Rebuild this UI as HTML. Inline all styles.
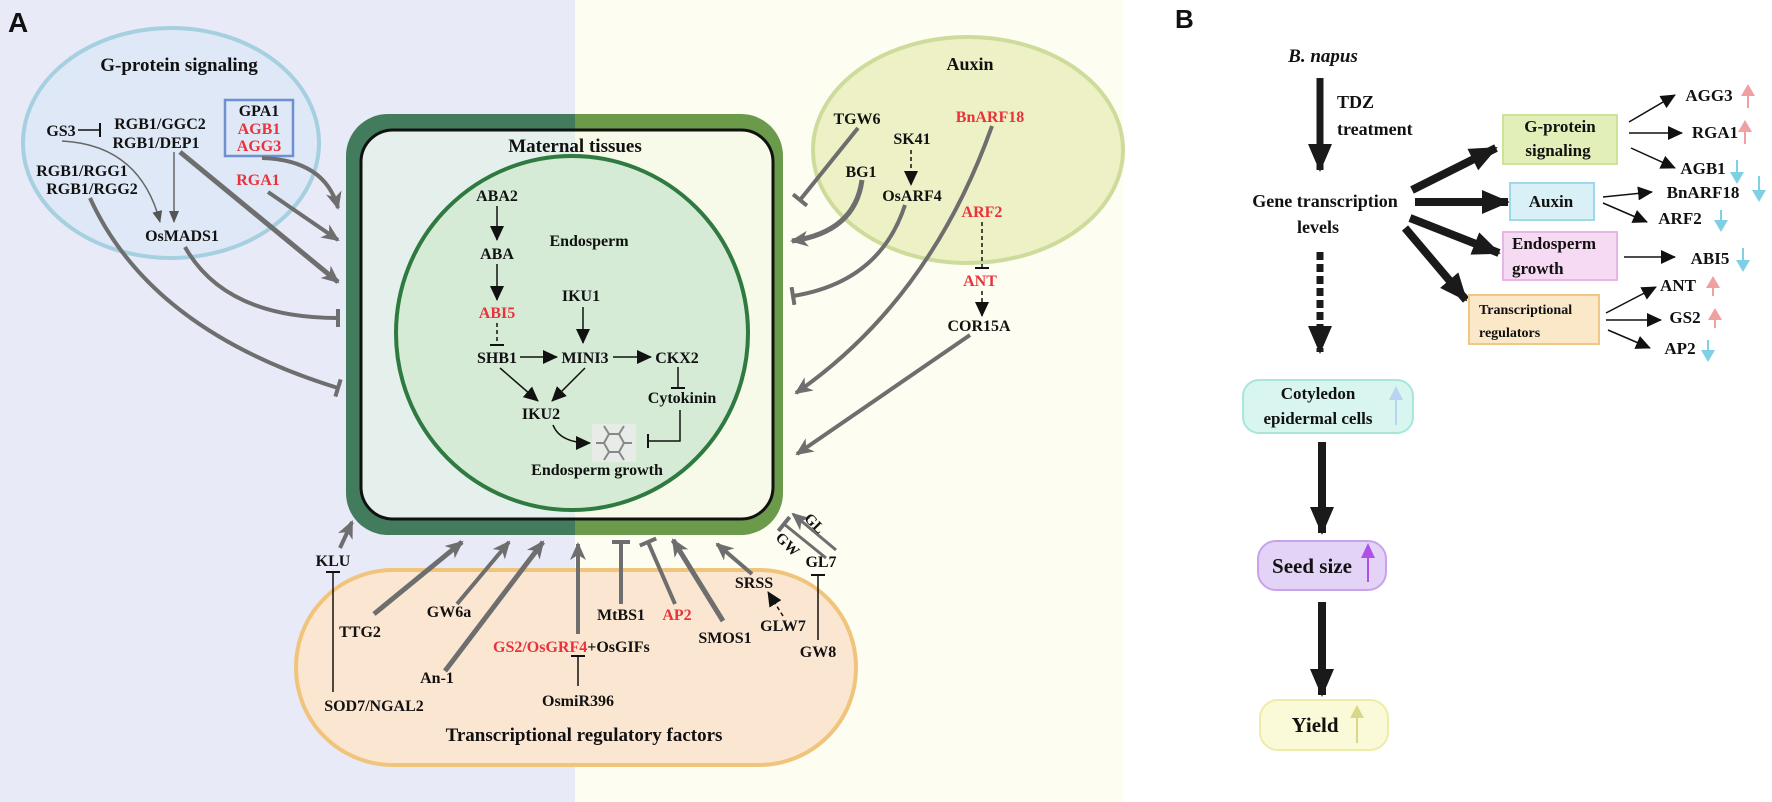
<!DOCTYPE html>
<html><head><meta charset="utf-8"><style>
html,body{margin:0;padding:0;background:#fff}
svg{display:block}
text{font-family:"Liberation Serif",serif;font-weight:bold;fill:#111}
.r{fill:#e8323c}
.s{font-family:"Liberation Sans",sans-serif}
</style></head><body>
<svg width="1772" height="802" viewBox="0 0 1772 802" xmlns="http://www.w3.org/2000/svg">
<defs>
<marker id="ga" markerUnits="userSpaceOnUse" markerWidth="20" markerHeight="20" viewBox="0 0 20 20" refX="16" refY="10" orient="auto"><path d="M0,2 L18,10 L0,18 L5,10 z" fill="#6e6e6e"/></marker>
<marker id="gt" markerUnits="userSpaceOnUse" markerWidth="18" markerHeight="18" viewBox="0 0 18 18" refX="9" refY="9" orient="auto"><rect x="7" y="0" width="4" height="18" fill="#6e6e6e"/></marker>
<marker id="ba" markerUnits="userSpaceOnUse" markerWidth="16" markerHeight="16" viewBox="0 0 16 16" refX="14" refY="8" orient="auto"><path d="M0,1 L15,8 L0,15 z" fill="#111"/></marker>
<marker id="bs" markerUnits="userSpaceOnUse" markerWidth="12" markerHeight="12" viewBox="0 0 12 12" refX="11" refY="6" orient="auto"><path d="M0,1 L12,6 L0,11 z" fill="#555"/></marker>
<marker id="bt" markerUnits="userSpaceOnUse" markerWidth="14" markerHeight="14" viewBox="0 0 14 14" refX="7" refY="7" orient="auto"><rect x="6" y="0" width="2" height="14" fill="#111"/></marker>
<marker id="BA" markerUnits="userSpaceOnUse" markerWidth="30" markerHeight="30" viewBox="0 0 30 30" refX="26" refY="15" orient="auto"><path d="M0,3 L28,15 L0,27 z" fill="#1a1a1a"/></marker>
<clipPath id="cl"><rect x="0" y="0" width="575" height="802"/></clipPath>
<clipPath id="cr"><rect x="575" y="0" width="600" height="802"/></clipPath>
</defs>

<rect x="0" y="0" width="575" height="802" fill="#e8eaf8"/>
<rect x="575" y="0" width="548" height="802" fill="#fdfdf1"/>
<text x="8" y="32" class="s" font-size="28" fill="#111">A</text>
<text x="1175" y="28" class="s" font-size="26">B</text>

<ellipse cx="171" cy="143" rx="148" ry="115" fill="#dee8f6" stroke="#a6cfe0" stroke-width="4"/>
<text x="179" y="71" font-size="19" text-anchor="middle">G-protein signaling</text>
<text x="61" y="136" font-size="16" text-anchor="middle">GS3</text>
<line x1="78" y1="130" x2="100" y2="130" stroke="#111" stroke-width="1.5" marker-end="url(#bt)"/>
<text x="160" y="129" font-size="16" text-anchor="middle">RGB1/GGC2</text>
<text x="156" y="148" font-size="16" text-anchor="middle">RGB1/DEP1</text>
<rect x="225" y="100" width="68" height="56" fill="none" stroke="#6f8fd0" stroke-width="2.5"/>
<text x="259" y="116" font-size="16" text-anchor="middle">GPA1</text>
<text x="259" y="134" font-size="16" text-anchor="middle" class="r">AGB1</text>
<text x="259" y="151" font-size="16" text-anchor="middle" class="r">AGG3</text>
<text x="82" y="176" font-size="16" text-anchor="middle">RGB1/RGG1</text>
<text x="92" y="194" font-size="16" text-anchor="middle">RGB1/RGG2</text>
<text x="258" y="185" font-size="16" text-anchor="middle" class="r">RGA1</text>
<text x="182" y="241" font-size="16" text-anchor="middle">OsMADS1</text>
<path d="M62,141 Q140,145 160,222" fill="none" stroke="#666" stroke-width="1.5" marker-end="url(#bs)"/>
<line x1="174" y1="152" x2="174" y2="222" stroke="#666" stroke-width="1.5" marker-end="url(#bs)"/>

<ellipse cx="968" cy="150" rx="155" ry="113" fill="#eef1c6" stroke="#cddc9a" stroke-width="4"/>
<text x="970" y="70" font-size="18" text-anchor="middle">Auxin</text>
<text x="857" y="124" font-size="16" text-anchor="middle">TGW6</text>
<text x="912" y="144" font-size="16" text-anchor="middle">SK41</text>
<text x="861" y="177" font-size="16" text-anchor="middle">BG1</text>
<text x="912" y="201" font-size="16" text-anchor="middle">OsARF4</text>
<text x="990" y="122" font-size="16" text-anchor="middle" class="r">BnARF18</text>
<text x="982" y="217" font-size="16" text-anchor="middle" class="r">ARF2</text>
<text x="980" y="286" font-size="16" text-anchor="middle" class="r">ANT</text>
<text x="979" y="331" font-size="16" text-anchor="middle">COR15A</text>
<line x1="911" y1="150" x2="911" y2="185" stroke="#111" stroke-width="1.5" stroke-dasharray="4,3" marker-end="url(#ba)"/>
<line x1="982" y1="222" x2="982" y2="268" stroke="#111" stroke-width="1.5" stroke-dasharray="4,3" marker-end="url(#bt)"/>
<line x1="982" y1="291" x2="982" y2="316" stroke="#111" stroke-width="1.5" stroke-dasharray="4,3" marker-end="url(#ba)"/>

<rect x="296" y="570" width="560" height="195" rx="97" fill="#fbe6d2" stroke="#f0c47a" stroke-width="4"/>
<text x="584" y="741" font-size="19" text-anchor="middle">Transcriptional regulatory factors</text>
<text x="333" y="566" font-size="16" text-anchor="middle">KLU</text>
<text x="360" y="637" font-size="16" text-anchor="middle">TTG2</text>
<text x="449" y="617" font-size="16" text-anchor="middle">GW6a</text>
<text x="437" y="683" font-size="16" text-anchor="middle">An-1</text>
<text x="374" y="711" font-size="16" text-anchor="middle">SOD7/NGAL2</text>
<text x="493" y="652" font-size="16"><tspan class="r">GS2/OsGRF4</tspan>+OsGIFs</text>
<text x="578" y="706" font-size="16" text-anchor="middle">OsmiR396</text>
<text x="621" y="620" font-size="16" text-anchor="middle">MtBS1</text>
<text x="677" y="620" font-size="16" text-anchor="middle" class="r">AP2</text>
<text x="725" y="643" font-size="16" text-anchor="middle">SMOS1</text>
<text x="754" y="588" font-size="16" text-anchor="middle">SRSS</text>
<text x="783" y="631" font-size="16" text-anchor="middle">GLW7</text>
<text x="821" y="567" font-size="16" text-anchor="middle">GL7</text>
<text x="818" y="657" font-size="16" text-anchor="middle">GW8</text>
<line x1="333" y1="692" x2="333" y2="572" stroke="#111" stroke-width="1.5" marker-end="url(#bt)"/>
<line x1="578" y1="686" x2="578" y2="656" stroke="#111" stroke-width="1.5" marker-end="url(#bt)"/>
<line x1="818" y1="640" x2="818" y2="575" stroke="#111" stroke-width="1.5" marker-end="url(#bt)"/>
<line x1="783" y1="616" x2="768" y2="592" stroke="#111" stroke-width="1.5" stroke-dasharray="4,3" marker-end="url(#ba)"/>

<g clip-path="url(#cl)"><rect x="346" y="114" width="437" height="421" rx="42" fill="#437c5c"/><rect x="361" y="130" width="412" height="389" rx="32" fill="#e5f0ed" stroke="#111" stroke-width="3"/></g>
<g clip-path="url(#cr)"><rect x="346" y="114" width="437" height="421" rx="42" fill="#6b9a4a"/><rect x="361" y="130" width="412" height="389" rx="32" fill="#f7f9e9" stroke="#111" stroke-width="3"/></g>
<text x="575" y="152" font-size="19" text-anchor="middle">Maternal tissues</text>
<ellipse cx="572" cy="333" rx="176" ry="177" fill="#d5ebd6" stroke="#2f7a40" stroke-width="4"/>
<text x="497" y="201" font-size="16" text-anchor="middle">ABA2</text>
<text x="497" y="259" font-size="16" text-anchor="middle">ABA</text>
<text x="497" y="318" font-size="16" text-anchor="middle" class="r">ABI5</text>
<text x="497" y="363" font-size="16" text-anchor="middle">SHB1</text>
<text x="585" y="363" font-size="16" text-anchor="middle">MINI3</text>
<text x="677" y="363" font-size="16" text-anchor="middle">CKX2</text>
<text x="581" y="301" font-size="16" text-anchor="middle">IKU1</text>
<text x="589" y="246" font-size="16" text-anchor="middle">Endosperm</text>
<text x="541" y="419" font-size="16" text-anchor="middle">IKU2</text>
<text x="682" y="403" font-size="16" text-anchor="middle">Cytokinin</text>
<text x="597" y="475" font-size="16" text-anchor="middle">Endosperm growth</text>
<rect x="592" y="424" width="44" height="38" fill="#e8ece8"/>
<path d="M604,443 L609,434 L619,434 L624,443 L619,452 L609,452 z M596,443 L604,443 M624,443 L632,443 M609,434 L604,426 M619,434 L624,426 M609,452 L604,460 M619,452 L624,460" fill="none" stroke="#888" stroke-width="2"/>
<line x1="497" y1="206" x2="497" y2="240" stroke="#111" stroke-width="1.5" marker-end="url(#ba)"/>
<line x1="497" y1="264" x2="497" y2="300" stroke="#111" stroke-width="1.5" marker-end="url(#ba)"/>
<line x1="497" y1="323" x2="497" y2="345" stroke="#111" stroke-width="1.5" stroke-dasharray="4,3" marker-end="url(#bt)"/>
<line x1="583" y1="307" x2="583" y2="343" stroke="#111" stroke-width="1.5" marker-end="url(#ba)"/>
<line x1="520" y1="357" x2="557" y2="357" stroke="#111" stroke-width="1.5" marker-end="url(#ba)"/>
<line x1="613" y1="357" x2="651" y2="357" stroke="#111" stroke-width="1.5" marker-end="url(#ba)"/>
<line x1="500" y1="368" x2="538" y2="401" stroke="#111" stroke-width="1.5" marker-end="url(#ba)"/>
<line x1="585" y1="368" x2="552" y2="401" stroke="#111" stroke-width="1.5" marker-end="url(#ba)"/>
<line x1="678" y1="367" x2="678" y2="388" stroke="#111" stroke-width="1.5" marker-end="url(#bt)"/>
<polyline points="680,410 680,441 648,441" fill="none" stroke="#111" stroke-width="1.5" marker-end="url(#bt)"/>
<path d="M553,425 Q560,443 590,443" fill="none" stroke="#111" stroke-width="1.5" marker-end="url(#ba)"/>

<g fill="none" stroke="#6e6e6e" stroke-width="4">
<path d="M262,158 Q325,160 338,208" marker-end="url(#ga)"/>
<path d="M268,192 L338,240" marker-end="url(#ga)"/>
<path d="M180,152 L338,282" stroke-width="5" marker-end="url(#ga)"/>
<path d="M185,247 Q225,318 338,318" marker-end="url(#gt)"/>
<path d="M90,198 Q150,330 338,388" marker-end="url(#gt)"/>
<path d="M858,128 L800,200" marker-end="url(#gt)"/>
<path d="M862,180 Q855,232 792,241" stroke-width="5" marker-end="url(#ga)"/>
<path d="M905,205 Q880,282 793,296" marker-end="url(#gt)"/>
<path d="M992,126 Q930,300 796,393" marker-end="url(#ga)"/>
<path d="M970,335 L797,454" marker-end="url(#ga)"/>
<path d="M340,548 L352,522" marker-end="url(#ga)"/>
<path d="M374,614 L462,542" stroke-width="5" marker-end="url(#ga)"/>
<path d="M457,604 L509,542" marker-end="url(#ga)"/>
<path d="M445,671 L543,542" stroke-width="5" marker-end="url(#ga)"/>
<path d="M578,634 L578,544" marker-end="url(#ga)"/>
<path d="M621,604 L621,542" marker-end="url(#gt)"/>
<path d="M675,604 L648,542" marker-end="url(#gt)"/>
<path d="M723,621 L673,540" stroke-width="5" marker-end="url(#ga)"/>
<path d="M752,574 L717,544" marker-end="url(#ga)"/>
<path d="M836,550 L793,514" stroke-width="3" marker-end="url(#ga)"/>
<path d="M826,558 L784,524" stroke-width="3" marker-end="url(#gt)"/>
</g>
<text x="814" y="528" font-size="15" text-anchor="middle" transform="rotate(45 814 524)">GL</text>
<text x="787" y="549" font-size="15" text-anchor="middle" transform="rotate(45 787 545)">GW</text>

<text x="1323" y="62" font-size="19" font-style="italic" text-anchor="middle">B. napus</text>
<line x1="1320" y1="78" x2="1320" y2="170" stroke="#1a1a1a" stroke-width="7" marker-end="url(#BA)"/>
<text x="1337" y="108" font-size="18">TDZ</text>
<text x="1337" y="135" font-size="18">treatment</text>
<text x="1325" y="207" font-size="18" text-anchor="middle">Gene transcription</text>
<text x="1318" y="233" font-size="18" text-anchor="middle">levels</text>
<line x1="1320" y1="252" x2="1320" y2="352" stroke="#1a1a1a" stroke-width="7" stroke-dasharray="8,4" marker-end="url(#BA)"/>
<g stroke="#1a1a1a" stroke-width="8">
<line x1="1412" y1="190" x2="1496" y2="148" marker-end="url(#BA)"/>
<line x1="1415" y1="202" x2="1508" y2="202" marker-end="url(#BA)"/>
<line x1="1410" y1="218" x2="1499" y2="253" marker-end="url(#BA)"/>
<line x1="1405" y1="228" x2="1466" y2="300" marker-end="url(#BA)"/>
</g>
<rect x="1503" y="115" width="114" height="49" fill="#e2efb8" stroke="#cde39a" stroke-width="2"/>
<text x="1560" y="132" font-size="17" text-anchor="middle">G-protein</text>
<text x="1558" y="156" font-size="17" text-anchor="middle">signaling</text>
<rect x="1510" y="183" width="84" height="37" fill="#d9f0f7" stroke="#9fd8ea" stroke-width="2"/>
<text x="1551" y="207" font-size="17" text-anchor="middle">Auxin</text>
<rect x="1503" y="232" width="114" height="48" fill="#f6d9f2" stroke="#e9b4e6" stroke-width="2"/>
<text x="1512" y="249" font-size="17">Endosperm</text>
<text x="1512" y="274" font-size="17">growth</text>
<rect x="1469" y="295" width="130" height="49" fill="#fbe8c9" stroke="#efc883" stroke-width="2"/>
<text x="1479" y="314" font-size="14">Transcriptional</text>
<text x="1479" y="337" font-size="14">regulators</text>
<g stroke="#111" stroke-width="1.5">
<line x1="1629" y1="122" x2="1675" y2="95" marker-end="url(#ba)"/>
<line x1="1629" y1="133" x2="1682" y2="133" marker-end="url(#ba)"/>
<line x1="1631" y1="148" x2="1675" y2="168" marker-end="url(#ba)"/>
<line x1="1603" y1="197" x2="1652" y2="192" marker-end="url(#ba)"/>
<line x1="1603" y1="203" x2="1647" y2="222" marker-end="url(#ba)"/>
<line x1="1624" y1="257" x2="1675" y2="257" marker-end="url(#ba)"/>
<line x1="1606" y1="313" x2="1656" y2="287" marker-end="url(#ba)"/>
<line x1="1606" y1="320" x2="1661" y2="320" marker-end="url(#ba)"/>
<line x1="1608" y1="330" x2="1650" y2="348" marker-end="url(#ba)"/>
</g>
<text x="1709" y="101" font-size="17" text-anchor="middle">AGG3</text>
<text x="1715" y="138" font-size="17" text-anchor="middle">RGA1</text>
<text x="1703" y="174" font-size="17" text-anchor="middle">AGB1</text>
<text x="1703" y="198" font-size="17" text-anchor="middle">BnARF18</text>
<text x="1680" y="224" font-size="17" text-anchor="middle">ARF2</text>
<text x="1710" y="264" font-size="17" text-anchor="middle">ABI5</text>
<text x="1678" y="291" font-size="17" text-anchor="middle">ANT</text>
<text x="1685" y="323" font-size="17" text-anchor="middle">GS2</text>
<text x="1680" y="354" font-size="17" text-anchor="middle">AP2</text>
<g stroke-width="2">
<line x1="1748" y1="108" x2="1748" y2="90" stroke="#f0a0a0"/><path d="M1741,96 L1748,84 L1755,96 z" fill="#f0a0a0"/>
<line x1="1745" y1="144" x2="1745" y2="126" stroke="#f0a0a0"/><path d="M1738,132 L1745,120 L1752,132 z" fill="#f0a0a0"/>
<line x1="1737" y1="160" x2="1737" y2="178" stroke="#7fd0e4"/><path d="M1730,172 L1737,184 L1744,172 z" fill="#7fd0e4"/>
<line x1="1759" y1="176" x2="1759" y2="196" stroke="#7fd0e4"/><path d="M1752,190 L1759,202 L1766,190 z" fill="#7fd0e4"/>
<line x1="1721" y1="210" x2="1721" y2="226" stroke="#7fd0e4"/><path d="M1714,220 L1721,232 L1728,220 z" fill="#7fd0e4"/>
<line x1="1743" y1="248" x2="1743" y2="266" stroke="#7fd0e4"/><path d="M1736,260 L1743,272 L1750,260 z" fill="#7fd0e4"/>
<line x1="1713" y1="296" x2="1713" y2="282" stroke="#f0a0a0"/><path d="M1706,288 L1713,276 L1720,288 z" fill="#f0a0a0"/>
<line x1="1715" y1="328" x2="1715" y2="314" stroke="#f0a0a0"/><path d="M1708,320 L1715,308 L1722,320 z" fill="#f0a0a0"/>
<line x1="1708" y1="340" x2="1708" y2="356" stroke="#7fd0e4"/><path d="M1701,350 L1708,362 L1715,350 z" fill="#7fd0e4"/>
</g>
<rect x="1243" y="380" width="170" height="53" rx="16" fill="#d8f5ef" stroke="#a8e6d9" stroke-width="2"/>
<text x="1318" y="399" font-size="17" text-anchor="middle">Cotyledon</text>
<text x="1318" y="424" font-size="17" text-anchor="middle">epidermal cells</text>
<line x1="1396" y1="425" x2="1396" y2="395" stroke="#b8d4f0" stroke-width="2"/><path d="M1389,400 L1396,386 L1403,400 z" fill="#b8d4f0"/>
<line x1="1322" y1="442" x2="1322" y2="533" stroke="#1a1a1a" stroke-width="8" marker-end="url(#BA)"/>
<rect x="1258" y="541" width="128" height="49" rx="18" fill="#e3d4f7" stroke="#c9a3ea" stroke-width="2"/>
<text x="1312" y="573" font-size="21" text-anchor="middle">Seed size</text>
<line x1="1368" y1="582" x2="1368" y2="552" stroke="#b050e8" stroke-width="2"/><path d="M1361,558 L1368,543 L1375,558 z" fill="#b050e8"/>
<line x1="1322" y1="602" x2="1322" y2="695" stroke="#1a1a1a" stroke-width="8" marker-end="url(#BA)"/>
<rect x="1260" y="700" width="128" height="50" rx="18" fill="#fbfad8" stroke="#eeeca6" stroke-width="2"/>
<text x="1315" y="732" font-size="21" text-anchor="middle">Yield</text>
<line x1="1357" y1="743" x2="1357" y2="714" stroke="#d8d888" stroke-width="2"/><path d="M1350,718 L1357,705 L1364,718 z" fill="#d8d888"/>
</svg>
</body></html>
